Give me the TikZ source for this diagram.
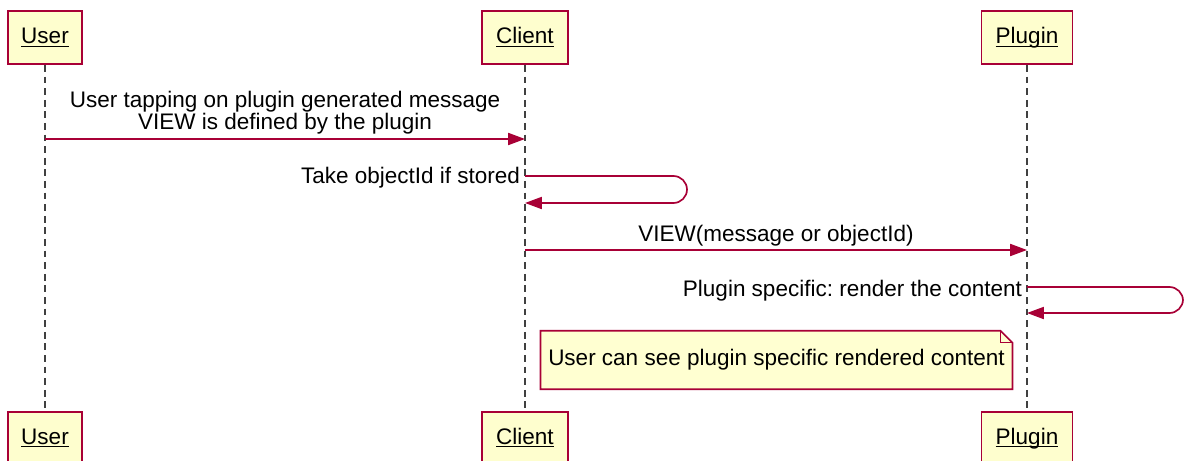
\documentclass[tikz,border=0pt]{standalone}
\usepackage{fontspec}
\setmainfont{Liberation Sans}
\usetikzlibrary{arrows.meta,backgrounds}
\frenchspacing

\definecolor{umlred}{HTML}{A80036}
\definecolor{umlfill}{HTML}{FEFECE}

\newcommand{\pname}[1]{\underline{\smash{#1}}}

\tikzset{
	actor/.style = {draw=umlred, fill=umlfill, line width=1.2pt, minimum height=1.33cm, inner sep=0pt, text height=12pt, text depth=3pt, font=\fontsize{16}{19}\selectfont},
	lifeline/.style = {draw=black!75, line width=1pt, dash pattern=on 0.17cm off 0.12cm},
	msg/.style = {draw=umlred, line width=1.2pt, -{Triangle[length=0.42cm, width=0.3cm]}},
	lbl/.style = {font=\fontsize{16}{15.5}\selectfont, inner sep=0pt, align=center},
	notebox/.style = {draw=umlred, fill=umlfill!60!yellow!35, line width=1.2pt},
}

\begin{document}
\begin{tikzpicture}[x=0.025cm, y=-0.025cm]
	\useasboundingbox (0,0) rectangle (1186,461);
	% participants
	\node[actor, minimum width=1.85cm] (user) at (45,37.5) {\pname{User}};
	\node[actor, minimum width=2.15cm] (client) at (525,37.5) {\pname{Client}};
	\node[actor, minimum width=2.27cm] (plugin) at (1027,37.5) {\pname{Plugin}};
	\node[actor, minimum width=1.85cm, anchor=north] (userB) at (45,411) {\pname{User}};
	\node[actor, minimum width=2.15cm, anchor=north] (clientB) at (525,411) {\pname{Client}};
	\node[actor, minimum width=2.27cm, anchor=north] (pluginB) at (1027,411) {\pname{Plugin}};
	\draw[lifeline] (user) -- (userB);
	\draw[lifeline] (client) -- (clientB);
	\draw[lifeline] (plugin) -- (pluginB);

	% messages
	\coordinate (m1a) at (user |- 0,139);
	\coordinate (m1b) at (client |- 0,139);
	\draw[msg] (m1a) -- node[lbl, above=3pt] {User tapping on plugin generated message\\VIEW is defined by the plugin} (m1b);

	\coordinate (s1a) at (client |- 0,176);
	\coordinate (s1b) at (client |- 0,203);
	\node[lbl, anchor=south east] (s1) at ([xshift=-0.12cm, yshift=-0.3cm]s1a) {Take objectId if stored};
	\draw[msg, rounded corners=0.34cm] (s1a) -- ++(162,0) |- (s1b);

	\coordinate (m2a) at (client |- 0,250);
	\coordinate (m2b) at (plugin |- 0,250);
	\draw[msg] (m2a) -- node[lbl, above=2pt] {VIEW(message or objectId)} (m2b);

	\coordinate (s2a) at (plugin |- 0,287);
	\coordinate (s2b) at (plugin |- 0,313);
	\node[lbl, anchor=south east] (s2) at ([xshift=-0.12cm, yshift=-0.35cm]s2a) {Plugin specific: render the content};
	\draw[msg, rounded corners=0.34cm] (s2a) -- ++(156,0) |- (s2b);

	% note
	\node[lbl, minimum width=11.78cm, minimum height=1.45cm] (note) at (776.5,360) {User can see plugin specific rendered content};
	\begin{scope}[on background layer]
		\draw[notebox] (note.south west) -- (note.north west) -- ([xshift=-0.3cm]note.north east)
			-- ([yshift=-0.3cm]note.north east) -- (note.south east) -- cycle;
	\end{scope}
	\draw[draw=umlred, line width=1pt] ([xshift=-0.3cm]note.north east) |- ([yshift=-0.3cm]note.north east);
\end{tikzpicture}
\end{document}
